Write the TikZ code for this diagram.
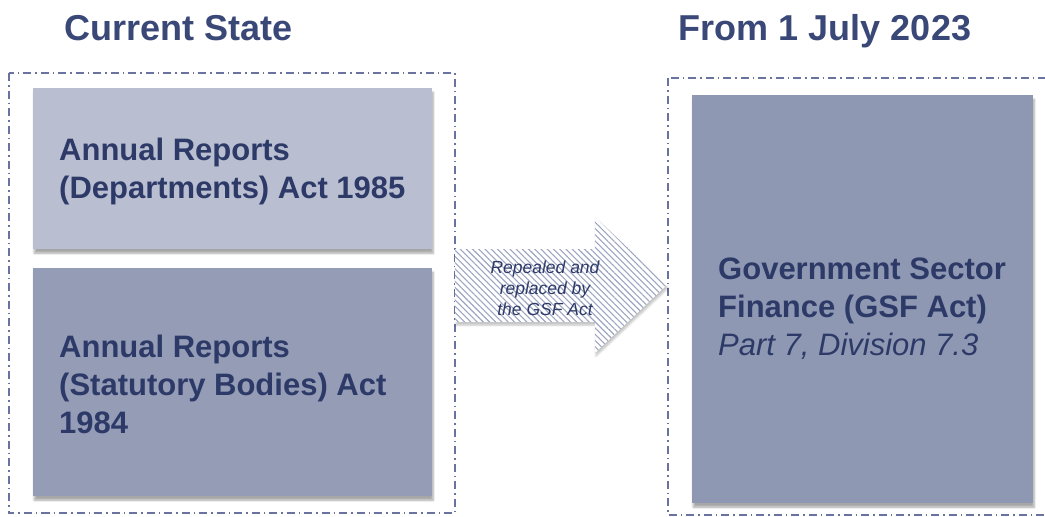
\documentclass[tikz,border=0pt]{standalone}
\usepackage{fontspec}
\setmainfont{Liberation Sans}
\usetikzlibrary{patterns.meta,shadows.blur}

\definecolor{headblue}{HTML}{3A4878}
\definecolor{inkblue}{HTML}{2D3A68}
\definecolor{boxlight}{HTML}{B9BFD1}
\definecolor{boxmid}{HTML}{959CB6}
\definecolor{boxdark}{HTML}{8F98B2}
\definecolor{frameblue}{HTML}{6A73A0}
\definecolor{hatchblue}{HTML}{9DA5C2}

\tikzset{
  heading/.style={font=\fontsize{36}{40}\selectfont\bfseries, text=headblue, inner sep=0pt},
  actbox/.style={draw=none, inner sep=0pt, anchor=north west,
    blur shadow={shadow xshift=1pt, shadow yshift=-4pt, shadow blur steps=6, shadow opacity=35}},
  acttext/.style={font=\fontsize{31}{38}\selectfont\bfseries, text=inkblue, align=left,
    anchor=west, inner sep=0pt},
  groupframe/.style={draw=frameblue, line width=1.2pt,
    dash pattern=on 8pt off 4pt on 1.5pt off 4pt},
  notetext/.style={font=\fontsize{17.5}{21}\selectfont\itshape, text=inkblue, align=center, inner sep=0pt}
}

\begin{document}
\begin{tikzpicture}[x=1pt,y=-1pt]
\useasboundingbox (0,0) rectangle (1045,517);

% column headings
\node[heading, anchor=base] (hcur) at (179,40) {Current State};
\node[heading, anchor=base] (hnew) at (825,40) {From 1 July 2023};

% grouping frames
\draw[groupframe] (9,73) rectangle (455,513);
\draw[groupframe] (668,78) rectangle (1050,515);

% current acts
\node[actbox, fill=boxlight, minimum width=399pt, minimum height=161pt] (dept) at (33,88) {};
\node[acttext] (depttext) at ([xshift=26pt, yshift=-3pt]dept.west) {Annual Reports\\(Departments) Act 1985};

\node[actbox, fill=boxmid, minimum width=399pt, minimum height=228pt] (stat) at (33,268) {};
\node[acttext] (stattext) at ([xshift=26pt, yshift=-2pt]stat.west) {Annual Reports\\(Statutory Bodies) Act\\1984};

% replacement act
\node[actbox, fill=boxdark, minimum width=341pt, minimum height=408pt] (gsf) at (692,95) {};
\node[acttext] (gsftext) at (718,309) {Government Sector\\Finance (GSF Act)\\{\mdseries\itshape Part 7, Division 7.3}};

% hatched block arrow
\coordinate (arrtail) at (455,285);
\coordinate (arrtip) at (667,285);
\path[fill=white, blur shadow={shadow xshift=1pt, shadow yshift=-3pt, shadow blur steps=5, shadow opacity=25}]
  (455,249) -- (595,249) -- (595,217) -- (arrtip) -- (595,353) -- (595,322) -- (455,322) -- cycle;
\path[pattern={Lines[angle=-45, distance=4.4pt, line width=1.1pt]}, pattern color=hatchblue]
  (455,249) -- (595,249) -- (595,217) -- (arrtip) -- (595,353) -- (595,322) -- (455,322) -- cycle;
\node[notetext] (note) at (545,288) {Repealed and\\replaced by\\the GSF Act};
\end{tikzpicture}
\end{document}
